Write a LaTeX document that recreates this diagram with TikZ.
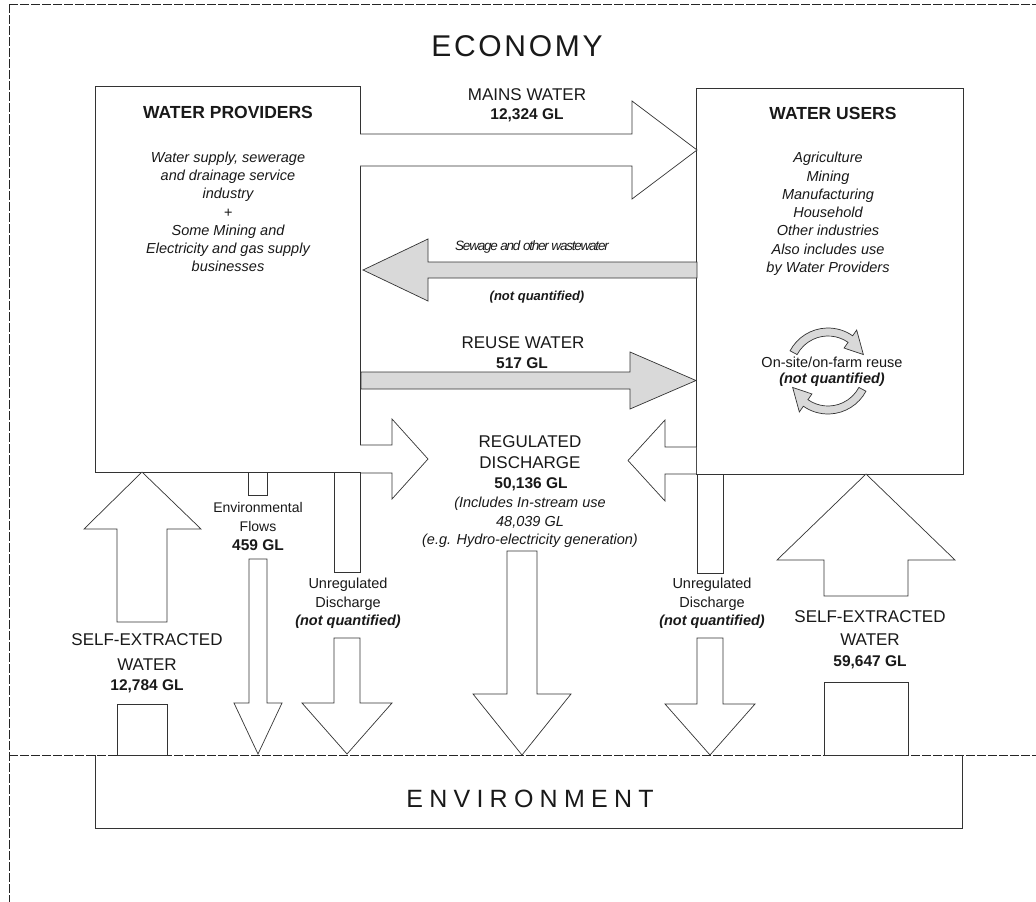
\documentclass[tikz,border=0pt]{standalone}
\usepackage{fontspec}
\setmainfont{Liberation Sans}
\newfontfamily\spacedA[LetterSpace=9]{Liberation Sans}
\newfontfamily\spacedB[LetterSpace=25]{Liberation Sans}
\newfontfamily\narrowF[LetterSpace=-9]{Liberation Sans}
\newcommand\fz[2]{\fontsize{#1}{#2}\selectfont}
\begin{document}
\begin{tikzpicture}[x=1pt,y=1pt,line join=miter,
  box/.style={draw=black!80,line width=0.9pt,fill=white,inner sep=0pt},
  blk/.style={draw=black!80,line width=0.7pt,fill=white},
  gblk/.style={draw=black!80,line width=0.7pt,fill=black!15},
  frame/.style={draw=black!85,line width=0.8pt,dash pattern=on 9pt off 2pt},
  lbl/.style={inner sep=0pt,align=center,text=black!90}]
\useasboundingbox (0,0) rectangle (1036,-902);
\fill[white] (0,0) rectangle (1036,-902);
% frame
\draw[frame] (9,-4) -- (1036,-4);
\draw[frame] (9,-4) -- (9,-902);
\draw[frame] (9,-755) -- (1036,-755);
% boxes
\node[box,minimum width=265pt,minimum height=386pt] (wp) at (227.5,-279) {};
\node[box,minimum width=267pt,minimum height=386pt] (wu) at (829.5,-281) {};
\draw[draw=black!80,line width=0.9pt] (95,-755) -- (95,-828) -- (962,-828) -- (962,-755);
% mains water
\draw[blk] (360,-134) -- (632,-134) -- (632,-101) -- (697,-150) -- (632,-199) -- (632,-166) -- (360,-166);
% sewage
\draw[gblk] (697,-262) -- (428,-262) -- (428,-239) -- (363,-270) -- (428,-301) -- (428,-278) -- (697,-278) -- cycle;
% reuse
\draw[gblk] (361,-372) -- (630,-372) -- (630,-352) -- (696,-380.5) -- (630,-409) -- (630,-389) -- (361,-389) -- cycle;
% regulated discharge side arrows
\draw[blk] (360,-445) -- (392,-445) -- (392,-419) -- (428,-459) -- (392,-499) -- (392,-473) -- (360,-473);
\draw[blk] (696,-447) -- (665,-447) -- (665,-420) -- (628,-460.5) -- (665,-501) -- (665,-474) -- (696,-474);
% environmental flows
\draw[blk] (248,-472) rectangle (267,-495);
\draw[blk] (249,-559) -- (267,-559) -- (267,-703) -- (282,-703) -- (258,-754) -- (234,-703) -- (249,-703) -- cycle;
% unregulated left
\draw[blk] (334,-472) rectangle (360,-572);
\draw[blk] (334,-638) -- (360,-638) -- (360,-703) -- (392,-703) -- (347,-754) -- (302,-703) -- (334,-703) -- cycle;
% regulated down
\draw[blk] (507,-551) -- (537,-551) -- (537,-694) -- (571,-694) -- (522,-755) -- (473,-694) -- (507,-694) -- cycle;
% unregulated right
\draw[blk] (697,-474) rectangle (723,-573);
\draw[blk] (697,-638) -- (723,-638) -- (723,-704) -- (755,-704) -- (710,-755) -- (665,-704) -- (697,-704) -- cycle;
% self-extracted left
\draw[blk] (117,-622) -- (117,-529) -- (84,-529) -- (142,-472) -- (201,-529) -- (167,-529) -- (167,-622) -- cycle;
\draw[blk] (117,-704) rectangle (167,-755);
% self-extracted right
\draw[blk] (824,-596) -- (824,-560) -- (777,-560) -- (866,-474) -- (955,-560) -- (908,-560) -- (908,-596) -- cycle;
\draw[blk] (824,-682) rectangle (908,-755);
% on-site reuse circular arrows
\begin{scope}[shift={(828,-371)}]
\draw[gblk] (152:43pt) arc[start angle=152,end angle=55,radius=43pt] -- (55:50pt) -- (25:39pt) -- (55:28pt) -- (55:35pt) arc[start angle=55,end angle=152,radius=35pt] -- cycle;
\draw[gblk] (332:43pt) arc[start angle=332,end angle=235,radius=43pt] -- (235:50pt) -- (205:39pt) -- (235:28pt) -- (235:35pt) arc[start angle=235,end angle=332,radius=35pt] -- cycle;
\end{scope}
% texts
\node[lbl,font={\spacedA\fz{30}{36}}] (economy) at (517,-46) {ECONOMY};
\node[lbl,font={\spacedB\fz{25}{30}}] (environment) at (530,-799) {ENVIRONMENT};
\node[lbl,font={\bfseries\fz{17.5}{21}}] (wptitle) at (228,-112) {WATER PROVIDERS};
\node[lbl,font={\itshape\fz{14.5}{18.2}}] (wpdesc) at (228,-213.5) {\strut Water supply, sewerage\\ \strut and drainage service\\ \strut industry\\ \strut +\\ \strut Some Mining and\\ \strut Electricity and gas supply\\ \strut businesses};
\node[lbl,font={\bfseries\fz{17.5}{21}}] (wutitle) at (833,-113) {WATER USERS};
\node[lbl,font={\itshape\fz{14.5}{18.3}}] (wudesc) at (828,-214) {\strut Agriculture\\ \strut Mining\\ \strut Manufacturing\\ \strut Household\\ \strut Other industries\\ \strut Also includes use\\ \strut by Water Providers};
\node[lbl,font={\fz{14.5}{17}}] (onsite) at (832,-362) {On-site/on-farm reuse};
\node[lbl,font={\bfseries\itshape\fz{14.5}{17}}] (onsitenq) at (832,-380) {(not quantified)};
\node[lbl,font={\fz{17}{20}}] (mains) at (527,-95) {MAINS WATER};
\node[lbl,font={\bfseries\fz{15.5}{18}}] (mainsq) at (527,-115) {12,324 GL};
\node[lbl,font={\narrowF\itshape\fz{13.5}{16}}] (sewage) at (532,-247) {Sewage and other wastewater};
\node[lbl,font={\bfseries\itshape\fz{13}{15}}] (sewagenq) at (537,-297) {(not quantified)};
\node[lbl,font={\fz{17}{20}}] (reuse) at (523,-343) {REUSE WATER};
\node[lbl,font={\bfseries\fz{15.5}{18}}] (reuseq) at (522,-363) {517 GL};
\node[lbl,font={\fz{17}{20}}] (reg1) at (530,-442) {REGULATED};
\node[lbl,font={\fz{17}{20}}] (reg2) at (530,-463) {DISCHARGE};
\node[lbl,font={\bfseries\fz{15.5}{18}}] (regq) at (531,-484) {50,136 GL};
\node[lbl,font={\itshape\fz{14.5}{18.5}}] (regi) at (530,-522.7) {\strut(Includes In-stream use\\ \strut 48,039 GL\\ \strut(e.g. Hydro-electricity generation)};
\node[lbl,font={\fz{14}{19}}] (envflows) at (258,-528) {\strut Environmental\\ \strut Flows\\ \strut\fontsize{15.5}{19}\selectfont\bfseries 459 GL};
\node[lbl,font={\fz{14.5}{18.5}}] (unregL) at (348,-603.3) {\strut Unregulated\\ \strut Discharge\\ \strut\bfseries\itshape (not quantified)};
\node[lbl,font={\fz{14.5}{18.5}}] (unregR) at (712,-603.3) {\strut Unregulated\\ \strut Discharge\\ \strut\bfseries\itshape (not quantified)};
\node[lbl,font={\fz{17}{20}}] (selfL1) at (147,-640) {SELF-EXTRACTED};
\node[lbl,font={\fz{17}{20}}] (selfL2) at (147,-665) {WATER};
\node[lbl,font={\bfseries\fz{15.5}{18}}] (selfL3) at (147,-686) {12,784 GL};
\node[lbl,font={\fz{17}{20}}] (selfR1) at (870,-617) {SELF-EXTRACTED};
\node[lbl,font={\fz{17}{20}}] (selfR2) at (870,-640) {WATER};
\node[lbl,font={\bfseries\fz{15.5}{18}}] (selfR3) at (870,-662) {59,647 GL};
\end{tikzpicture}
\end{document}
